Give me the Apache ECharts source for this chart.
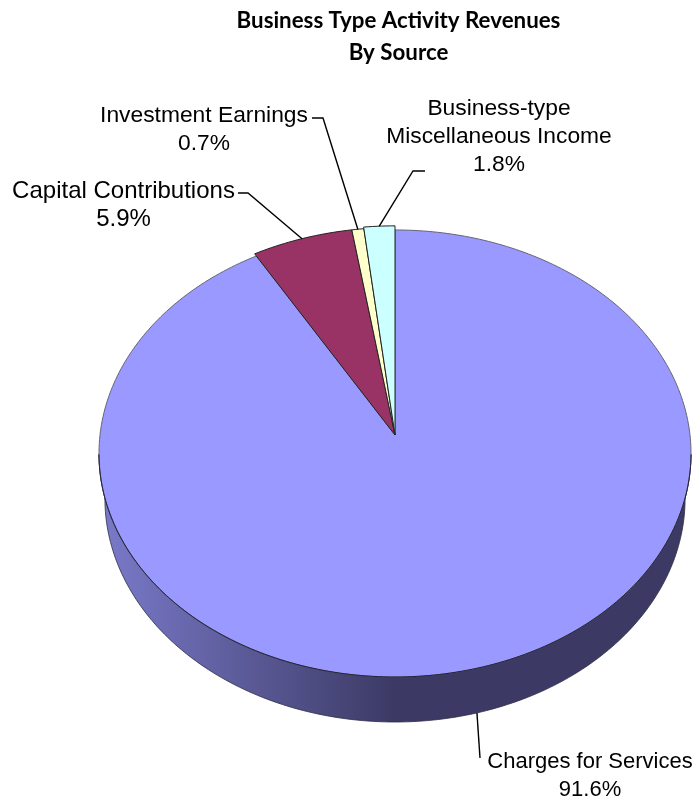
<!DOCTYPE html>
<html>
<head>
<meta charset="utf-8">
<title>Business Type Activity Revenues By Source</title>
<script src="https://cdn.jsdelivr.net/npm/echarts@6/dist/echarts.min.js"></script>
<style>
  html, body { margin: 0; padding: 0; background: #fff; }
  #chart { width: 694px; height: 803px; }
</style>
</head>
<body>
<div id="chart"></div>
<script>
// data, clockwise from 12 o'clock
const categories = ['Charges for Services', 'Capital Contributions', 'Investment Earnings', 'Business-type\nMiscellaneous Income']
const shares = [91.6, 5.9, 0.7, 1.8]

const colors = ['#9999ff', '#993366', '#ffffcc', '#ccffff']

// tilted pie projection: apex is the pie centre as seen in perspective
const apex = [395, 435]
const spanX = 295
const spanY = 222
const tilt = 0.0827
const depth = 45
const floorShrink = 0.98
const total = shares.reduce((a, b) => a + b, 0)

// small outward pull of each slice, the thin ones sit a little proud of the rim
const slicePull = [1, 1.012, 1.012, 1.02]

// label centres, sizes and leader elbows, same order as categories
const labelCentres = [[590, 776], [123.5, 205], [204, 130], [499, 137]]
const labelSizes = [22, 24, 22.8, 22.8]
const leaderElbows = [
  [[480, 758]],
  [[248, 193], [238, 193]],
  [[323, 118], [312, 118]],
  [[413, 171], [425, 171]]
]

function rimPoint(deg, pull) {
  const a = deg * Math.PI / 180
  const d = 1 + tilt * Math.cos(a)
  return [apex[0] + pull * spanX * Math.sin(a) / d, apex[1] - pull * spanY * Math.cos(a) / d]
}

function floorPoint(deg) {
  const p = rimPoint(deg, 1)
  return [apex[0] + (p[0] - apex[0]) * floorShrink, p[1] + depth]
}

function arc(from, to, pointAt) {
  const pts = []
  const n = Math.max(2, Math.ceil(Math.abs(to - from)))
  for (let i = 0; i <= n; i++) pts.push(pointAt(from + (to - from) * i / n))
  return pts
}

function renderSlice(params, api) {
  const i = params.dataIndex
  const before = shares.slice(0, i).reduce((a, b) => a + b, 0)
  const start = before / total * 360
  const end = (before + api.value(0)) / total * 360
  const mid = (start + end) / 2
  const onRim = deg => rimPoint(deg, slicePull[i])
  const kids = []

  // side wall, only the front of the rim shows it
  const wallFrom = Math.max(start, 95)
  const wallTo = Math.min(end, 265)
  const hasWall = wallTo > wallFrom
  if (hasWall) {
    kids.push({
      type: 'polygon',
      shape: { points: arc(wallFrom, wallTo, onRim).concat(arc(wallTo, wallFrom, floorPoint)) },
      style: {
        fill: new echarts.graphic.LinearGradient(1, 0, 0, 0, [
          { offset: 0, color: '#3c3a64' },
          { offset: 0.5, color: '#3c3a64' },
          { offset: 1, color: '#7a7acb' }
        ]),
        stroke: '#2c2c48',
        lineWidth: 0.8
      }
    })
  }

  kids.push({
    type: 'polygon',
    shape: { points: [apex].concat(arc(start, end, onRim)) },
    style: { fill: colors[i], stroke: i === 0 ? '#666677' : '#222', lineWidth: 1 }
  })

  if (hasWall) {
    kids.push({
      type: 'polyline',
      shape: { points: arc(wallFrom, wallTo, onRim) },
      style: { fill: null, stroke: '#22223a', lineWidth: 1 }
    })
  }

  // leader line: starts on the rim at the slice's middle
  const front = mid > 90 && mid < 270
  kids.push({
    type: 'polyline',
    shape: { points: [front ? floorPoint(mid) : onRim(mid)].concat(leaderElbows[i]) },
    style: { fill: null, stroke: '#000', lineWidth: 1.4 }
  })

  kids.push({
    type: 'text',
    style: {
      text: categories[i] + '\n' + api.value(0).toFixed(1) + '%',
      x: labelCentres[i][0],
      y: labelCentres[i][1],
      align: 'center',
      verticalAlign: 'middle',
      fontFamily: 'Liberation Sans',
      fontSize: labelSizes[i],
      lineHeight: 28,
      fill: '#000'
    }
  })
  return { type: 'group', children: kids }
}

const chart = echarts.init(document.getElementById('chart'))
chart.setOption({
  animation: false,
  backgroundColor: '#fff',
  title: {
    text: 'Business Type Activity Revenues\nBy Source',
    left: 393.5,
    top: 0,
    textAlign: 'center',
    textStyle: {
      fontFamily: 'Lato',
      fontWeight: 'bold',
      fontSize: 22.3,
      lineHeight: 32,
      color: '#000'
    }
  },
  series: [{
    type: 'custom',
    coordinateSystem: 'none',
    silent: true,
    data: shares.map(v => [v]),
    renderItem: renderSlice
  }]
})
</script>
</body>
</html>
